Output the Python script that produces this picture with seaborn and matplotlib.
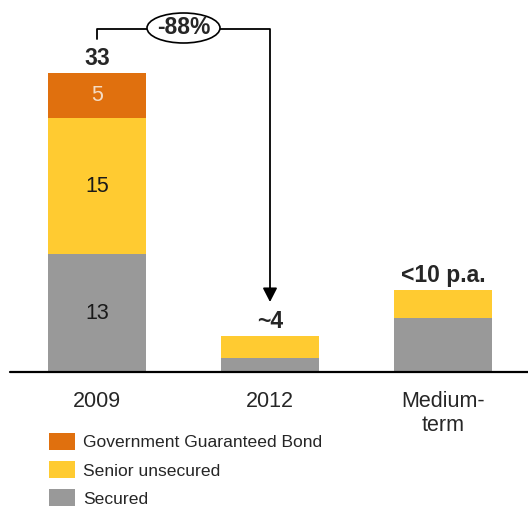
import matplotlib
matplotlib.use("Agg")
import matplotlib.pyplot as plt
from matplotlib.patches import Patch, Ellipse
import seaborn as sns
import pandas as pd
import numpy as np

sns.set_style("white")
plt.rcParams['font.family'] = ['Liberation Sans', 'DejaVu Sans']

categories = ["2009", "2012", "Medium-\nterm"]
secured = [13, 1.5, 6]
senior_unsecured = [15, 2.5, 3]
gov_guaranteed = [5, 0, 0]
total_labels = ["33", "~4", "<10 p.a."]
series_names = ["Government Guaranteed Bond", "Senior unsecured", "Secured"]
colors = {"Secured": "#999999", "Senior unsecured": "#FFCB31",
          "Government Guaranteed Bond": "#E0700E"}

df = pd.DataFrame({"cat": categories, "Secured": secured,
                   "Senior unsecured": senior_unsecured,
                   "Government Guaranteed Bond": gov_guaranteed})
df["lvl2"] = df["Secured"] + df["Senior unsecured"]
df["lvl3"] = df["lvl2"] + df["Government Guaranteed Bond"]

W, H = 528, 507
fig = plt.figure(figsize=(W / 100, H / 100), dpi=100)
ax = fig.add_axes([0, 135 / H, 1, 372 / H])

bw = 98 / 173
for col, key in [("lvl3", "Government Guaranteed Bond"), ("lvl2", "Senior unsecured"), ("Secured", "Secured")]:
    sns.barplot(data=df, x="cat", y=col, color=colors[key], width=bw,
                saturation=1, ax=ax, edgecolor="none", linewidth=0)

ax.set_xlim(-97 / 173, (W - 97) / 173)
ax.set_ylim(0, 372 / (299 / 33))
ax.set_xlabel("")
ax.set_ylabel("")
ax.set_yticks([])
for s in ax.spines.values():
    s.set_visible(False)
ax.tick_params(axis="x", length=0, pad=14, labelsize=15.5)
for t in ax.get_xticklabels():
    t.set_linespacing(1.18)
ax.axhline(0, xmin=10 / W, xmax=1, color="black", lw=1.6, clip_on=False)

# inner value labels (2009)
ax.text(0, secured[0] / 2, str(secured[0]), ha="center", va="center", fontsize=15.5, color="#1a1a1a")
ax.text(0, secured[0] + senior_unsecured[0] / 2, str(senior_unsecured[0]), ha="center", va="center",
        fontsize=15.5, color="#1a1a1a")
ax.text(0, secured[0] + senior_unsecured[0] + gov_guaranteed[0] / 2, str(gov_guaranteed[0]),
        ha="center", va="center", fontsize=15.5, color="#F5DCC4")

# totals
for i, lab in enumerate(total_labels):
    ax.text(i, df["lvl3"][i], lab, ha="center", va="bottom", fontsize=16.5, fontweight="bold",
            transform=ax.transData + matplotlib.transforms.ScaledTranslation(0, 3 / 100, fig.dpi_scale_trans))

# -88% connector arrow (figure pixel coords)
def fx(px):
    return px / W
def fy(py):
    return 1 - py / H

fig.add_artist(plt.Line2D([fx(97), fx(97), fx(270), fx(270)], [fy(39), fy(29), fy(29), fy(292)],
                          color="black", lw=1.3, zorder=2))
fig.add_artist(matplotlib.patches.FancyArrowPatch((fx(270), fy(288)), (fx(270), fy(302)),
                                                   transform=fig.transFigure,
                                                   arrowstyle="-|>,head_length=0.7,head_width=0.36",
                                                   mutation_scale=12, color="black", lw=1.3,
                                                   shrinkA=0, shrinkB=0, zorder=2))
fig.add_artist(Ellipse((fx(183.5), fy(28)), 73 / W, 30 / H, transform=fig.transFigure,
                       facecolor="white", edgecolor="black", lw=1.2, zorder=5))
fig.text(fx(183.5), fy(28), "-88%", ha="center", va="center", fontsize=16.5, fontweight="bold", zorder=6)

handles = [Patch(facecolor=colors[n], edgecolor="none") for n in series_names]
fig.legend(handles, series_names, loc="upper left", bbox_to_anchor=(fx(42), fy(426)),
           frameon=False, fontsize=12.6, handlelength=1.5, handleheight=1.1,
           labelspacing=0.62, handletextpad=0.45, borderaxespad=0)

fig.savefig("out.png", dpi=100)
